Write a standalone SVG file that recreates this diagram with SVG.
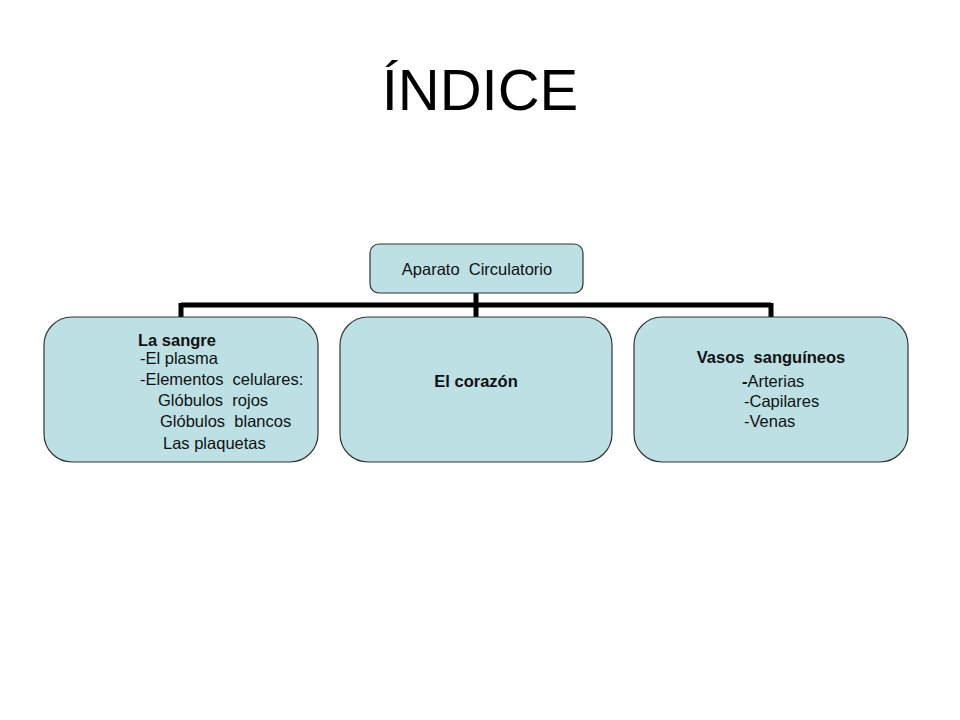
<svg xmlns="http://www.w3.org/2000/svg" width="960" height="720" viewBox="0 0 960 720">
<style>
.box{fill:#bce0e4;stroke:#333;stroke-width:1.2}
.t{font-family:"Liberation Sans",Arial,sans-serif;font-size:16.5px;fill:#111;white-space:pre}
.b{font-weight:bold}
.con{fill:none;stroke:#000;stroke-width:5}
</style>
<rect width="960" height="720" fill="#fff"/>
<text x="480" y="110" text-anchor="middle" font-family="Liberation Sans,Arial,sans-serif" font-size="58" fill="#000">ÍNDICE</text>
<g id="connectors">
<path class="con" d="M476,293 V305 M181,305 H771 M181,303 V317 M476,303 V317 M771,303 V317"/>
</g>
<g id="root">
<rect class="box" x="370" y="244" width="213" height="49" rx="9"/>
<text class="t" x="477" y="275" text-anchor="middle" xml:space="preserve">Aparato  Circulatorio</text>
</g>
<g id="sangre">
<rect class="box" x="44" y="317" width="274" height="145" rx="28"/>
<text class="t b" x="138" y="346">La sangre</text>
<text class="t" x="140" y="364">-El plasma</text>
<text class="t" x="140" y="385" xml:space="preserve">-Elementos  celulares:</text>
<text class="t" x="158" y="406" xml:space="preserve">Glóbulos  rojos</text>
<text class="t" x="160" y="427" xml:space="preserve">Glóbulos  blancos</text>
<text class="t" x="163" y="449">Las plaquetas</text>
</g>
<g id="corazon">
<rect class="box" x="340" y="317" width="272" height="145" rx="28"/>
<text class="t b" x="476" y="387" text-anchor="middle">El corazón</text>
</g>
<g id="vasos">
<rect class="box" x="634" y="317" width="274" height="145" rx="28"/>
<text class="t b" x="771" y="363" text-anchor="middle" xml:space="preserve">Vasos  sanguíneos</text>
<text class="t" x="742" y="387"><tspan class="b">-</tspan>Arterias</text>
<text class="t" x="744" y="407">-Capilares</text>
<text class="t" x="744" y="427">-Venas</text>
</g>
</svg>
